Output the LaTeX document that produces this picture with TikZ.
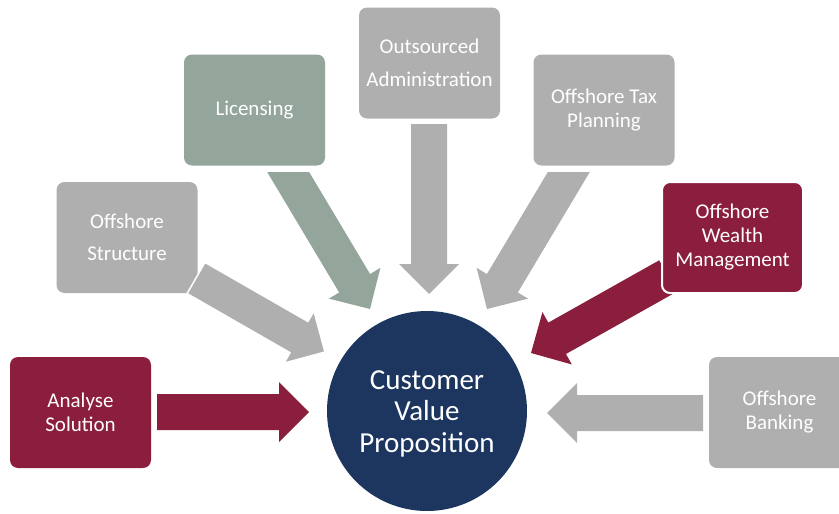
\documentclass[tikz,border=0pt]{standalone}
\usepackage{fontspec}
\setmainfont{Carlito}
\usetikzlibrary{calc,backgrounds}
\definecolor{cred}{HTML}{8B1E3C}
\definecolor{cgray}{HTML}{AFAFAF}
\definecolor{cgreen}{HTML}{94A59B}
\definecolor{cnavy}{HTML}{1D365F}
\newcommand\blockarrow[3]{%
  \coordinate (ba) at ($(#2)!30pt!(#1)$);
  \path[#3] ($(#1)!18pt!90:(#2)$) -- ($(ba)!18pt!90:(#2)$) -- ($(ba)!30pt!90:(#2)$)
    -- (#2) -- ($(ba)!30pt!-90:(#2)$) -- ($(ba)!18pt!-90:(#2)$) -- ($(#1)!18pt!-90:(#2)$) -- cycle;
}
\begin{document}
\begin{tikzpicture}[x=1pt,y=-1pt,
  box/.style={rounded corners=8pt, minimum width=141pt, minimum height=111pt,
    inner sep=0pt, text=white, align=center, font=\fontsize{21}{24}\selectfont},
  redbox/.style={box, fill=cred},
  graybox/.style={box, fill=cgray},
  greenbox/.style={box, fill=cgreen},
  redarrow/.style={fill=cred},
  grayarrow/.style={fill=cgray},
  greenarrow/.style={fill=cgreen},
  hub/.style={circle, fill=cnavy, minimum size=200pt, inner sep=0pt},
  hubtext/.style={text=white, align=center, inner sep=0pt, font=\fontsize{29}{31.5}\selectfont}]
\useasboundingbox (0,0) rectangle (839,514);
\clip (0,0) rectangle (839,514);

\node[hub] (cvp) at (427,411) {};
\node[hubtext] (cvpt) at (427,413.5) {Customer\\Value\\Proposition};

\node[redbox] (ana) at (80.5,412.5) {Analyse\\Solution};
\node[graybox, font=\fontsize{21}{32}\selectfont] (str) at (127,237.5) {Offshore\\Structure};
\node[greenbox] (lic) at (254.5,110) {Licensing};
\node[graybox, font=\fontsize{21}{33}\selectfont] (out) at (429.5,63) {Outsourced\\Administration};
\node[graybox] (tax) at (604,110) {Offshore Tax\\Planning};
\node[redbox, draw=white, line width=2pt] (wea) at (732.5,237.5) {Offshore\\Wealth\\Management};
\node[graybox] (ban) at (779.5,412.5) {Offshore\\Banking};

% arrow ends
\coordinate (anaT) at (157,412);  \coordinate (anaP) at (309,412);
\coordinate (banT) at (703,413);  \coordinate (banP) at (547,413);
\coordinate (outT) at (429,124);  \coordinate (outP) at (429,294);
\coordinate (licT) at (281,160);  \coordinate (licP) at (370,309);
\coordinate (taxT) at (576,160);  \coordinate (taxP) at (487,309);
\coordinate (strT) at (196,278);  \coordinate (strP) at (325,352);
\coordinate (weaT) at (668,276);  \coordinate (weaP) at (531,353);

\blockarrow{anaT}{anaP}{redarrow}
\blockarrow{banT}{banP}{grayarrow}
\blockarrow{outT}{outP}{grayarrow}
\begin{scope}
  \clip (0,172) rectangle (839,514);
  \blockarrow{licT}{licP}{greenarrow}
  \blockarrow{taxT}{taxP}{grayarrow}
\end{scope}
\blockarrow{strT}{strP}{grayarrow, draw=white, line width=1.5pt}
\begin{pgfonlayer}{background}
  \blockarrow{weaT}{weaP}{redarrow}
\end{pgfonlayer}
\end{tikzpicture}
\end{document}
